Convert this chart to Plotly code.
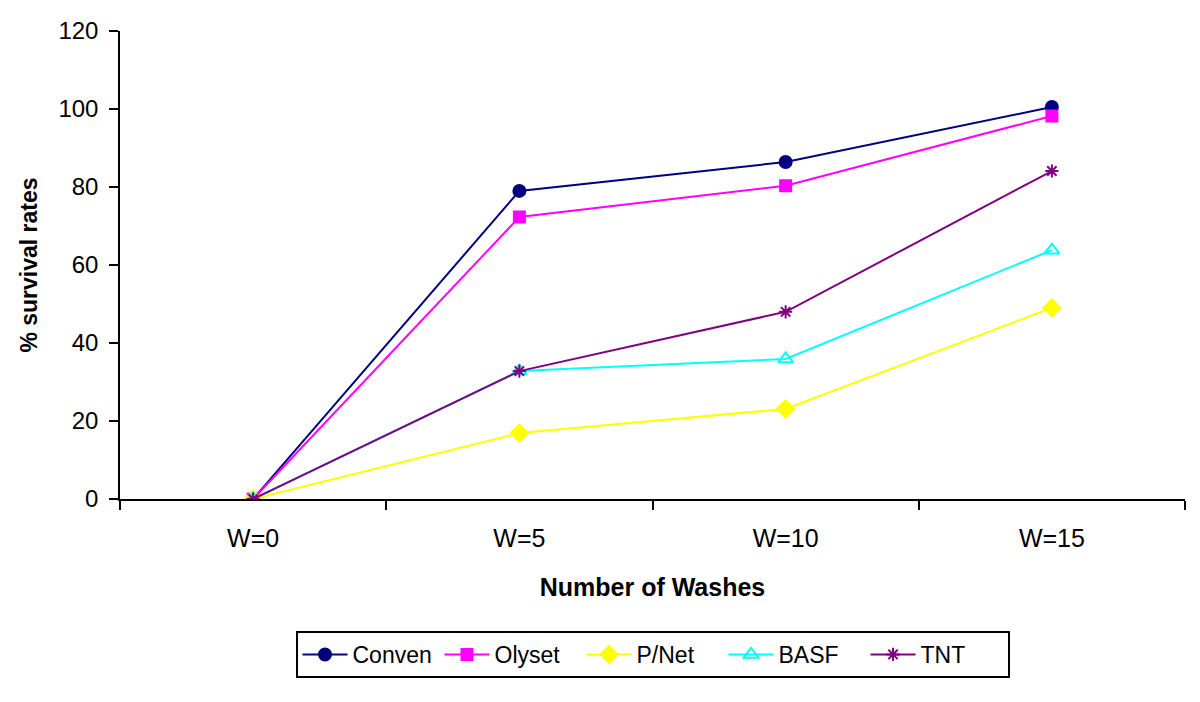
import plotly.graph_objects as go

categories = ["W=0", "W=5", "W=10", "W=15"]
conven = [0, 79.0, 86.4, 100.5]
olyset = [0, 72.3, 80.3, 98.2]
pnet = [0, 16.9, 23.1, 49.0]
basf = [0, 32.8, 35.9, 63.8]
tnt = [0, 32.8, 48.0, 84.1]

series = [
    ("Conven", conven, "#000080", "circle", 12),
    ("Olyset", olyset, "#FF00FF", "square", 11),
    ("P/Net", pnet, "#FFFF00", "diamond", 13),
    ("BASF", basf, "#00FFFF", "triangle-up-open", 13),
    ("TNT", tnt, "#800080", "asterisk-open", 11),
]

fig = go.Figure()
for name, vals, color, sym, size in series:
    fig.add_trace(go.Scatter(
        x=categories, y=vals, name=name, mode="lines+markers",
        line=dict(color=color, width=2),
        marker=dict(symbol=sym, size=size, color=color,
                    line=dict(color=color, width=2)),
    ))

font = "Liberation Sans, Arial, sans-serif"
fig.update_layout(
    width=1200, height=702,
    margin=dict(l=112, r=23, t=23, b=211),
    paper_bgcolor="white", plot_bgcolor="white",
    font=dict(family=font, size=24, color="black"),
    showlegend=True,
    legend=dict(orientation="h", x=0.5, xanchor="center", y=-0.282, yanchor="top",
                bordercolor="black", borderwidth=2, font=dict(size=23),
                itemwidth=45, entrywidth=82, entrywidthmode="pixels",
                tracegroupgap=0),
    xaxis=dict(type="category", tickson="boundaries", ticks="outside", ticklen=9,
               tickwidth=1.5, tickcolor="black", showline=True, linecolor="black",
               linewidth=1.5, showgrid=False, zeroline=False, automargin=False,
               ticklabelstandoff=16, tickfont=dict(size=25),
               range=[-0.5, 3.5],
               title=dict(text="<b>Number of Washes</b>", font=dict(size=25), standoff=28)),
    yaxis=dict(range=[0, 120], tickvals=[0, 20, 40, 60, 80, 100, 120], ticks="outside",
               ticklen=9, tickwidth=1.5, tickcolor="black", showline=True,
               linecolor="black", linewidth=1.5, showgrid=False, zeroline=False,
               automargin=False, ticklabelstandoff=6,
               title=dict(text="<b>% survival rates</b>", font=dict(size=23), standoff=14)),
)

fig.write_html("out.html")
